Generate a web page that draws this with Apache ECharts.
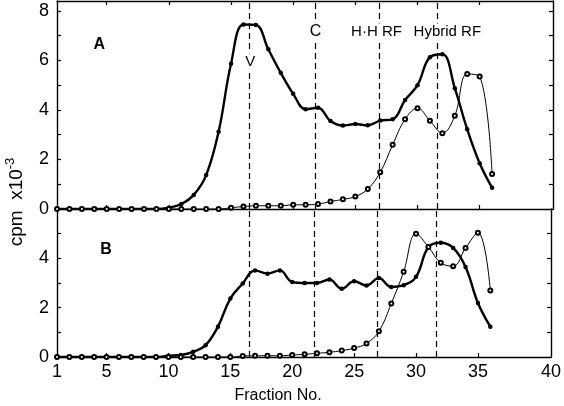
<!DOCTYPE html>
<html>
<head>
  <meta charset="utf-8" />
  <title>cpm fractions</title>
  <style>
    html, body { margin: 0; padding: 0; background: #fff; }
    #main { width: 564px; height: 406px; }
  </style>
</head>
<body>
  <div id="main"></div>
  <script src="https://cdn.jsdelivr.net/npm/echarts@6/dist/echarts.min.js"></script>
  <script>
    var fractions = [1,2,3,4,5,6,7,8,9,10,11,12,13,14,15,16,17,18,19,20,21,22,23,24,25,26,27,28,29,30,31,32,33,34,35,36];

    // panel A
    var aFilled = [0,0,0,0,0,0,0,0,0,0.05,0.2,0.57,1.37,3.12,5.87,7.45,7.43,6.45,5.5,4.65,4.03,4.09,3.55,3.37,3.43,3.38,3.57,3.62,4.4,5.0,6.13,6.25,4.88,3.22,1.85,0.86];
    var aOpen   = [0,0,0,0,0,0,0,0,0,0,0,0,0,0,0.05,0.1,0.13,0.13,0.13,0.17,0.17,0.2,0.3,0.39,0.5,0.81,1.48,2.59,3.62,4.07,3.56,3.06,3.77,5.45,5.35,1.41];
    // panel B
    var bFilled = [0,0,0,0,0,0,0,0,0,0.05,0.08,0.21,0.48,1.23,2.37,2.98,3.51,3.38,3.51,3.04,3.0,3.0,3.14,2.77,3.07,2.9,3.2,2.84,2.91,3.25,4.46,4.63,4.42,3.65,2.19,1.23];
    var bOpen   = [0,0,0,0,0,0,0,0,0,0,0,0,0,0,0,0.04,0.05,0.05,0.05,0.08,0.11,0.15,0.19,0.26,0.36,0.55,1.04,2.17,3.46,5.0,4.46,3.82,3.68,4.42,5.04,2.7];

    // marker fractions (dashed lines)
    var markerNames = ['V', 'C', 'H·H RF', 'Hybrid RF'];
    var markerFractions = [16.5, 21.8, 26.9, 31.6];

    var xTickValues = [1,5,10,15,20,25,30,35,40.9];
    var xTickLabels = ['1','5','10','15','20','25','30','35','40'];
    var aYLabels = [0,2,4,6,8];
    var aYTicks = [0,1,2,3,4,5,6,7,8];
    var bYLabels = [0,2,4];
    var bYTicks = [0,1,2,3,4,5];

    var _font = 'Liberation Sans';

    function pairs(ys) {
      return fractions.map(function (f, i) { return [f, ys[i]]; });
    }

    function xAxisCfg(grid, pos, withLabels) {
      return {
        type: 'value', gridIndex: grid, position: pos,
        min: 1, max: 40.9,
        axisLine: { show: true, onZero: false, lineStyle: { color: '#000', width: 1.4 } },
        axisTick: { show: true, inside: true, length: 4, customValues: xTickValues.slice(1, 8), lineStyle: { color: '#000', width: 1.2 } },
        axisLabel: {
          show: withLabels, customValues: xTickValues, margin: 6,
          color: '#000', fontSize: 18, fontFamily: _font,
          formatter: function (v) { return xTickLabels[xTickValues.indexOf(v)]; }
        },
        splitLine: { show: false }
      };
    }

    function yAxisCfg(grid, pos, max, labels, ticks) {
      return {
        type: 'value', gridIndex: grid, position: pos,
        min: 0, max: max,
        axisLine: { show: true, onZero: false, lineStyle: { color: '#000', width: 1.4 } },
        axisTick: { show: true, inside: true, length: 4, customValues: ticks, lineStyle: { color: '#000', width: 1.2 } },
        axisLabel: {
          show: !!labels, customValues: labels || [], margin: 8,
          color: '#000', fontSize: 18, fontFamily: _font
        },
        splitLine: { show: false }
      };
    }

    function markLines() {
      return {
        silent: true, symbol: 'none', label: { show: false },
        lineStyle: { color: '#000', type: [6, 4], width: 1.2 },
        data: markerFractions.map(function (f) { return { xAxis: f }; })
      };
    }

    function filledSeries(xi, yi, ys) {
      return {
        type: 'line', xAxisIndex: xi, yAxisIndex: yi, data: pairs(ys),
        smooth: 0.4, symbol: 'circle', symbolSize: 4.5,
        lineStyle: { color: '#000', width: 2.4 },
        itemStyle: { color: '#000' }
      };
    }

    function openSeries(xi, yi, ys) {
      return {
        type: 'line', xAxisIndex: xi, yAxisIndex: yi, data: pairs(ys),
        smooth: 0.4, symbol: 'emptyCircle', symbolSize: 4,
        lineStyle: { color: '#000', width: 1 },
        itemStyle: { color: '#000', borderWidth: 1 },
        markLine: markLines()
      };
    }

    function textItem(x, y, text, size, weight) {
      return {
        value: [x, y],
        label: { formatter: text, fontSize: size, fontWeight: weight || 'normal', color: '#000' }
      };
    }

    var myChart = echarts.init(document.getElementById('main'));
    var option = {
      animation: false,
      backgroundColor: '#fff',
      grid: [
        { left: 57, right: 11, top: 1, height: 208 },
        { left: 57, right: 11, top: 209, height: 148 }
      ],
      xAxis: [
        xAxisCfg(0, 'bottom', false),
        xAxisCfg(0, 'top', false),
        xAxisCfg(1, 'bottom', true)
      ],
      yAxis: [
        yAxisCfg(0, 'left', 8.4, aYLabels, aYTicks),
        yAxisCfg(0, 'right', 8.4, null, aYTicks.slice(1)),
        yAxisCfg(1, 'left', 6, bYLabels, bYTicks),
        yAxisCfg(1, 'right', 6, null, bYTicks.slice(1))
      ],
      series: [
        filledSeries(0, 0, aFilled),
        openSeries(0, 0, aOpen),
        filledSeries(2, 2, bFilled),
        openSeries(2, 2, bOpen),
        {
          type: 'scatter', xAxisIndex: 0, yAxisIndex: 0, z: 5, silent: true,
          symbolSize: 0, itemStyle: { opacity: 1 },
          label: { show: true, position: 'inside', color: '#000', fontFamily: _font, backgroundColor: '#fff', padding: [1, 1] },
          data: [
            textItem(4.4, 6.63, 'A', 16, 'bold'),
            textItem(markerFractions[0] + 0.05, 5.94, markerNames[0], 15),
            textItem(markerFractions[1], 7.15, markerNames[1], 16),
            textItem(26.7, 7.15, markerNames[2], 15),
            textItem(32.4, 7.15, markerNames[3], 15)
          ]
        },
        {
          type: 'scatter', xAxisIndex: 2, yAxisIndex: 2, z: 5, silent: true,
          symbolSize: 0, itemStyle: { opacity: 1 },
          label: { show: true, position: 'inside', color: '#000', fontFamily: _font },
          data: [ textItem(4.95, 4.36, 'B', 16, 'bold') ]
        }
      ],
      graphic: [
        {
          type: 'text', x: 278, y: 396,
          style: { text: 'Fraction No.', font: '16px "Liberation Sans"', fill: '#000', align: 'center', verticalAlign: 'middle' }
        },
        {
          type: 'text', x: 15, y: 202, rotation: Math.PI / 2,
          style: {
            text: '{a|cpm  x10}{b|-3}', fill: '#000', align: 'center', verticalAlign: 'middle',
            rich: {
              a: { fontSize: 19, fontFamily: _font, lineHeight: 22, verticalAlign: 'bottom' },
              b: { fontSize: 13, fontFamily: _font, verticalAlign: 'top' }
            }
          }
        }
      ]
    };
    myChart.setOption(option);
  </script>
</body>
</html>
